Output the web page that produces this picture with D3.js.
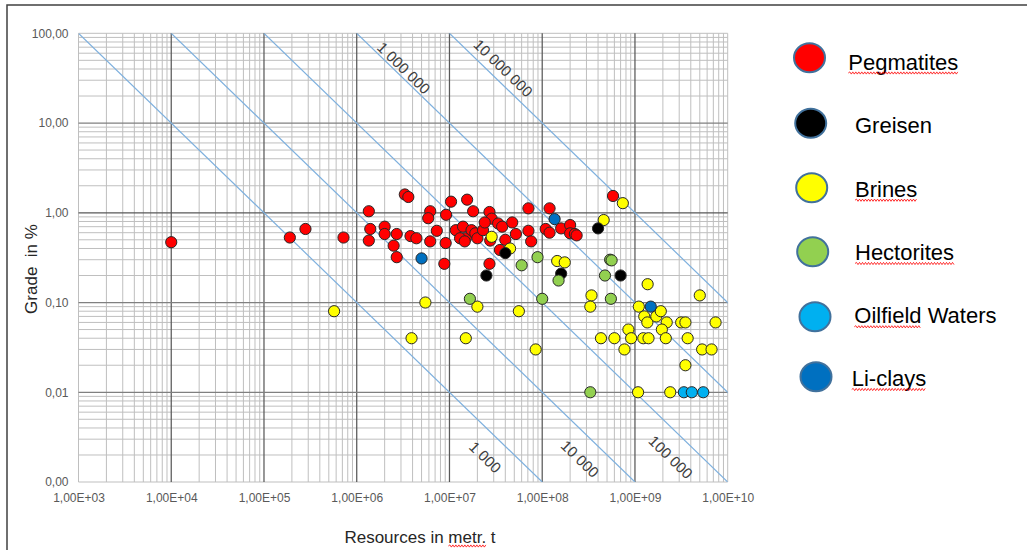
<!DOCTYPE html>
<html>
<head>
<meta charset="utf-8">
<script src="https://cdn.jsdelivr.net/npm/d3@7"></script>
<style>
  body { margin: 0; background: #fff; }
  svg { display: block; font-family: "Liberation Sans", Arial, sans-serif; }
</style>
</head>
<body>
<svg id="chart" width="1027" height="550"></svg>
<script>
// [tonnage in t, grade in %]
const pegmatites = [
  [1.0e4, 0.47], [1.9e5, 0.53], [2.8e5, 0.66], [7.2e5, 0.53], [1.35e6, 1.04], [1.4e6, 0.66], [1.35e6, 0.49],
  [2.0e6, 0.70], [2.0e6, 0.58], [2.7e6, 0.58], [2.5e6, 0.43], [2.7e6, 0.32], [3.3e6, 1.6], [3.6e6, 1.5],
  [3.8e6, 0.55], [4.4e6, 0.52], [6.2e6, 1.04], [5.9e6, 0.87], [7.3e6, 0.63], [6.2e6, 0.48], [8.8e6, 0.27],
  [9.2e6, 0.95], [1.04e7, 1.33], [1.55e7, 1.4], [1.8e7, 1.04], [9.1e6, 0.46],
  [1.17e7, 0.64], [1.4e7, 0.70], [1.5e7, 0.52], [1.3e7, 0.52], [1.46e7, 0.48], [1.73e7, 0.64], [1.9e7, 0.59], [2.0e7, 0.52],
  [2.7e7, 1.02], [2.85e7, 0.86], [3.35e7, 0.76], [3.7e7, 0.70], [4.75e7, 0.78], [2.3e7, 0.64], [2.4e7, 0.78],
  [2.75e7, 0.49], [4.0e7, 0.50], [5.2e7, 0.58], [7.1e7, 1.12], [7.1e7, 0.63], [7.6e7, 0.48],
  [1.2e8, 1.12], [1.09e8, 0.66], [1.2e8, 0.60], [1.6e8, 0.67], [2.0e8, 0.73], [2.0e8, 0.59], [2.25e8, 0.58], [2.35e8, 0.56],
  [3.5e7, 0.385], [2.7e7, 0.27], [5.8e8, 1.54]
];
const greisen = [[4.0e7, 0.355], [2.5e7, 0.20], [1.6e8, 0.21], [4.0e8, 0.67], [7.0e8, 0.20]];
const brines = [
  [5.7e5, 0.08], [3.9e6, 0.04], [5.5e6, 0.10], [1.5e7, 0.04], [2.0e7, 0.09], [5.6e7, 0.08], [8.5e7, 0.03],
  [4.5e7, 0.40], [2.85e7, 0.54], [1.45e8, 0.29], [1.75e8, 0.28], [4.6e8, 0.83], [7.4e8, 1.28],
  [3.4e8, 0.12], [3.3e8, 0.09], [1.37e9, 0.16], [4.3e8, 0.04], [6.0e8, 0.04], [7.7e8, 0.03], [8.5e8, 0.05], [9.1e8, 0.04],
  [1.1e9, 0.09], [1.23e9, 0.04], [1.4e9, 0.04], [1.26e9, 0.07], [1.36e9, 0.06], [1.7e9, 0.07], [1.9e9, 0.08], [2.2e9, 0.06],
  [1.95e9, 0.05], [2.15e9, 0.04], [3.15e9, 0.06], [3.5e9, 0.06], [3.7e9, 0.04], [5.0e9, 0.12], [7.4e9, 0.06],
  [3.5e9, 0.02], [5.3e9, 0.03], [6.7e9, 0.03], [1.08e9, 0.01], [2.4e9, 0.01]
];
const hectorites = [[1.66e7, 0.11], [1.0e8, 0.11], [6.0e7, 0.26], [8.9e7, 0.32], [1.5e8, 0.176], [4.75e8, 0.20],
  [5.4e8, 0.30], [5.6e8, 0.295], [5.5e8, 0.11], [3.3e8, 0.01]];
const oilfieldWaters = [[3.37e9, 0.01], [4.1e9, 0.01], [5.45e9, 0.01]];
const liClays = [[5.0e6, 0.31], [1.36e8, 0.85], [1.48e9, 0.09]];

const seriesNames = ['Pegmatites', 'Greisen', 'Brines', 'Hectorites', 'Oilfield Waters', 'Li-clays'];
const seriesColors = ['#ff0000', '#000000', '#ffff00', '#92d050', '#00b0f0', '#0070c0'];
const seriesData = [pegmatites, greisen, brines, hectorites, oilfieldWaters, liClays];
const drawOrder = [0, 2, 1, 3, 4, 5];

// lines of equal Li content (t)
const contentLines = [1e3, 1e4, 1e5, 1e6, 1e7];
const contentLabels = ['1 000', '10 000', '100 000', '1 000 000', '10 000 000'];
const contentLabelAt = [[2.42e7, 0.00189], [2.55e8, 0.00181], [2.43e9, 0.00189], [3.2e6, 41], [3.8e7, 41]];

const xDecades = [1e3, 1e4, 1e5, 1e6, 1e7, 1e8, 1e9, 1e10];
const yDecades = [0.001, 0.01, 0.1, 1, 10, 100];

const svg = d3.select('#chart');
const margin = { top: 33.3, left: 78.5 };
const width = 649.2, height = 448.7;

const x = d3.scaleLog().domain([1e3, 1e10]).range([0, width]);
const y = d3.scaleLog().domain([1e-3, 100]).range([height, 0]);

// outer frame
svg.append('rect')
  .attr('x', 7).attr('y', 5).attr('width', 1040).attr('height', 560)
  .attr('fill', 'none').attr('stroke', '#404040').attr('stroke-width', 1.5);

const g = svg.append('g').attr('transform', `translate(${margin.left},${margin.top})`);

// gridlines
const isDecade = v => Math.abs(Math.log10(v) - Math.round(Math.log10(v))) < 1e-9;
const xGrid = x.ticks();
const yGrid = y.ticks();
const edgeX = v => v === 1e3 || v === 1e10;
const edgeY = v => Math.abs(v - 0.001) < 1e-12 || v === 100;

g.append('g').selectAll('line').data(xGrid.filter(v => !(isDecade(v) && !edgeX(v)))).join('line')
  .attr('x1', d => x(d)).attr('x2', d => x(d)).attr('y1', 0).attr('y2', height)
  .attr('stroke', '#bfbfbf').attr('stroke-width', 1);
g.append('g').selectAll('line').data(yGrid.filter(v => !(isDecade(v) && !edgeY(v)))).join('line')
  .attr('y1', d => y(d)).attr('y2', d => y(d)).attr('x1', 0).attr('x2', width)
  .attr('stroke', '#bfbfbf').attr('stroke-width', 1);
g.append('g').selectAll('line').data(xDecades.filter(v => !edgeX(v))).join('line')
  .attr('x1', d => x(d)).attr('x2', d => x(d)).attr('y1', 0).attr('y2', height)
  .attr('stroke', '#595959').attr('stroke-width', 1.25);
g.append('g').selectAll('line').data(yDecades.filter(v => !edgeY(v))).join('line')
  .attr('y1', d => y(d)).attr('y2', d => y(d)).attr('x1', 0).attr('x2', width)
  .attr('stroke', d => d === 1 ? '#595959' : '#808080').attr('stroke-width', 1.25);

// content lines
svg.append('clipPath').attr('id', 'plot-clip').append('rect')
  .attr('width', width).attr('height', height);
const contentG = g.append('g').attr('clip-path', 'url(#plot-clip)');
contentG.selectAll('line').data(contentLines).join('line')
  .attr('x1', d => x(d)).attr('y1', d => y(d * 100 / d))
  .attr('x2', d => x(d * 1e5)).attr('y2', d => y(d * 100 / (d * 1e5)))
  .attr('stroke', '#7eb0de').attr('stroke-width', 1.2);

const angle = Math.atan2(height / 5, width / 7) * 180 / Math.PI;
g.append('g').selectAll('text').data(contentLabels).join('text')
  .attr('transform', (d, i) => `translate(${x(contentLabelAt[i][0])},${y(contentLabelAt[i][1])}) rotate(${angle})`)
  .attr('text-anchor', 'middle').attr('dy', '0.35em')
  .style('font-size', '15px').attr('fill', '#404040')
  .text(d => d);

// points
drawOrder.forEach(si => {
  g.append('g').selectAll('circle').data(seriesData[si]).join('circle')
    .attr('cx', d => x(d[0])).attr('cy', d => y(d[1])).attr('r', 5.6)
    .attr('fill', seriesColors[si]).attr('stroke', '#262626').attr('stroke-width', 1);
});

// axes
const xAxis = d3.axisBottom(x).tickValues(xDecades).tickSize(0).tickPadding(11)
  .tickFormat(d => '1,00E+' + String(Math.round(Math.log10(d))).padStart(2, '0'));
const yAxis = d3.axisLeft(y).tickValues(yDecades).tickSize(0).tickPadding(10)
  .tickFormat(d => d3.format('.2f')(d).replace('.', ','));
const xAxisG = g.append('g').attr('transform', `translate(0,${height})`).call(xAxis);
const yAxisG = g.append('g').call(yAxis);
[xAxisG, yAxisG].forEach(a => {
  a.select('.domain').remove();
  a.selectAll('text').style('font-size', '12px').attr('fill', '#595959')
    .style('font-family', '"Liberation Sans", Arial, sans-serif');
});

function squiggle(x1, x2, yy) {
  const path = d3.path();
  path.moveTo(x1, yy);
  let up = true;
  for (let px = x1 + 1.5; px <= x2; px += 1.5) {
    path.lineTo(px, yy + (up ? -1.1 : 1.1));
    up = !up;
  }
  svg.append('path').attr('d', path.toString()).attr('fill', 'none')
    .attr('stroke', '#ff0000').attr('stroke-width', 0.8);
}

// axis titles
const xTitle = svg.append('text')
  .attr('x', 420).attr('y', 543).attr('text-anchor', 'middle')
  .style('font-size', '17px').attr('fill', '#262626')
  .text('Resources in metr. t');
svg.append('text')
  .attr('transform', 'translate(37,269) rotate(-90)').attr('text-anchor', 'middle')
  .style('font-size', '17px').attr('fill', '#262626').attr('xml:space', 'preserve')
  .style('white-space', 'pre')
  .text('Grade  in %');
{
  const node = xTitle.node();
  const bb = node.getBBox();
  const start = bb.x + node.getSubStringLength(0, 13);
  squiggle(start, start + node.getSubStringLength(13, 5), 546);
}

// legend
const legendCircles = [[809.5, 57.7], [810.7, 123.3], [811.7, 187.7], [812.7, 251.7], [815, 316.7], [816, 376.7]];
const legendTextX = [848.3, 855, 855, 855, 854.3, 851.7];
const legendBaseline = [69.5, 133.3, 196.7, 260, 323.3, 386];
const underlineChars = [10, 0, 6, 10, 8, 8];
const legend = svg.append('g');
seriesNames.forEach((name, i) => {
  legend.append('ellipse')
    .attr('cx', legendCircles[i][0]).attr('cy', legendCircles[i][1])
    .attr('rx', 15.5).attr('ry', 14.5)
    .attr('fill', seriesColors[i]).attr('stroke', '#41719c').attr('stroke-width', 2);
  const t = legend.append('text')
    .attr('x', legendTextX[i]).attr('y', legendBaseline[i])
    .style('font-size', '22px').attr('fill', '#000')
    .text(name);
  if (underlineChars[i] > 0) {
    const w = t.node().getSubStringLength(0, underlineChars[i]);
    squiggle(legendTextX[i], legendTextX[i] + w, legendBaseline[i] + 3.5);
  }
});
</script>
</body>
</html>
